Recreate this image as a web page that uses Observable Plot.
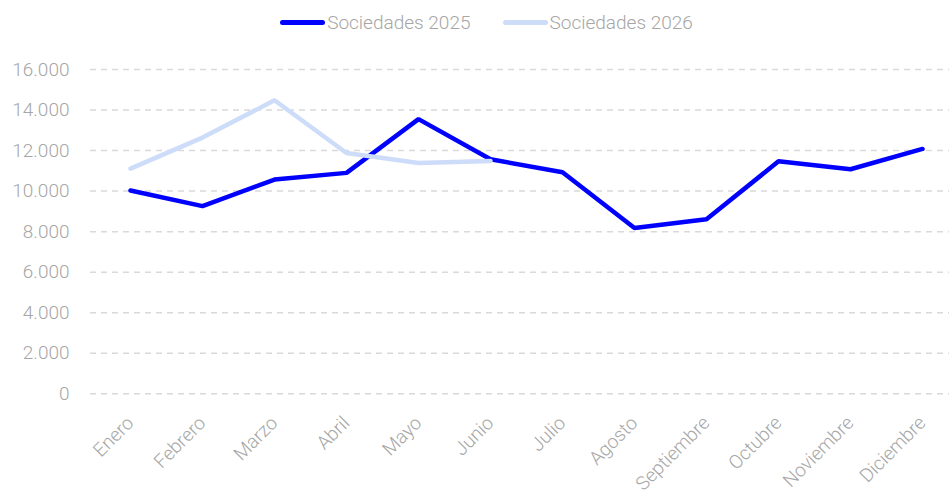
<!DOCTYPE html>
<html>
<head>
<meta charset="utf-8">
<script src="https://cdn.jsdelivr.net/npm/d3@7"></script>
<script src="https://cdn.jsdelivr.net/npm/@observablehq/plot@0.6"></script>
<style>
  html, body { margin: 0; padding: 0; background: #fff; }
  body { width: 949px; height: 494px; overflow: hidden; font-family: Roboto, "Open Sans", sans-serif; }
  #legend { height: 44px; display: flex; justify-content: center; align-items: center; padding-left: 24px; box-sizing: border-box; font-weight: 300; font-size: 19px; color: #a6a6a6; }
  .item { display: flex; align-items: center; margin: 0 16px; }
  .sw { width: 45px; height: 5px; border-radius: 3px; margin-right: 2px; }
</style>
</head>
<body>
<div id="legend"></div>
<div id="chart"></div>
<script>
const months = ["Enero","Febrero","Marzo","Abril","Mayo","Junio","Julio","Agosto","Septiembre","Octubre","Noviembre","Diciembre"];
const values2025 = [10030, 9260, 10570, 10900, 13550, 11570, 10930, 8180, 8610, 11470, 11080, 12080];
const values2026 = [11110, 12640, 14480, 11880, 11390, 11480];
const yTicks = [0, 2000, 4000, 6000, 8000, 10000, 12000, 14000, 16000];
const seriesNames = ["Sociedades 2025", "Sociedades 2026"];
const seriesColors = ["#0000ff", "#cddcf8"];

const rows = [
  ...values2025.map((v, i) => ({month: months[i], value: v, series: seriesNames[0]})),
  ...values2026.map((v, i) => ({month: months[i], value: v, series: seriesNames[1]}))
];

const legend = document.getElementById("legend");
seriesNames.forEach((name, i) => {
  const item = document.createElement("div");
  item.className = "item";
  const sw = document.createElement("span");
  sw.className = "sw";
  sw.style.background = seriesColors[i];
  const t = document.createElement("span");
  t.textContent = name;
  item.appendChild(sw);
  item.appendChild(t);
  legend.appendChild(item);
});

const fmt = d => d3.format(",")(d).replace(/,/g, ".");

const chart = Plot.plot({
  width: 949,
  height: 450,
  marginLeft: 90,
  marginRight: 0,
  marginTop: 25,
  marginBottom: 100.7,
  style: {fontFamily: "Roboto, 'Open Sans', sans-serif", fontSize: "19px", fontWeight: 300, color: "#a6a6a6", background: "transparent"},
  x: {type: "point", domain: months, range: [125, 926.5], padding: 0},
  y: {domain: [0, 16000]},
  color: {domain: seriesNames, range: seriesColors},
  marks: [
    Plot.ruleY(yTicks, {stroke: "#d9d9d9", strokeWidth: 1.5, strokeDasharray: "6,5"}),
    Plot.axisY(yTicks, {tickSize: 0, tickPadding: 21, tickFormat: fmt, label: null, fill: "#a6a6a6"}),
    Plot.axisX({tickSize: 0, tickRotate: -45, tickPadding: 26, label: null, fill: "#a6a6a6"}),
    Plot.line(rows, {x: "month", y: "value", z: "series", stroke: "series", strokeWidth: 4.5, strokeLinejoin: "miter", strokeLinecap: "round"})
  ]
});
document.getElementById("chart").appendChild(chart);
</script>
</body>
</html>
